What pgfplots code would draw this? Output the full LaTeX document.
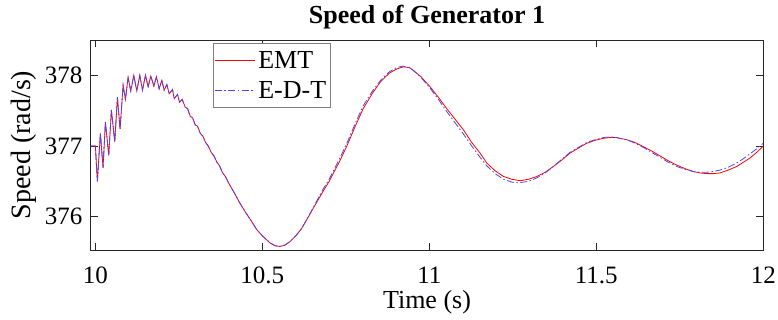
\documentclass[border=0pt]{standalone}
\usepackage{fontspec}
\setmainfont{Liberation Serif}
\usepackage{pgfplots}
\pgfplotsset{compat=1.18}
\definecolor{emtred}{RGB}{255,0,0}
\definecolor{edtblue}{RGB}{70,70,255}
\definecolor{axgray}{RGB}{38,38,38}
\begin{document}
\begin{tikzpicture}
\begin{axis}[
  at={(0pt,0pt)}, anchor=south west,
  scale only axis, width=672.6pt, height=210pt,
  xmin=9.986, xmax=12, ymin=375.53, ymax=378.5,
  xtick={10,10.5,11,11.5,12},
  xticklabels={10,10.5,11,11.5,12},
  ytick={376,377,378},
  yticklabels={376,377,378},
  tick align=inside, major tick length=7pt,
  xtick pos=both, ytick pos=both,
  axis line style={axgray, line width=0.8pt},
  tick style={axgray, line width=0.8pt},
  /pgf/number format/assume math mode=true,
  xticklabel style={font=\fontsize{25}{29}\selectfont, anchor=base, yshift=-33.5pt, inner sep=0pt},
  yticklabel style={font=\fontsize{25}{29}\selectfont, anchor=east, inner sep=0pt, xshift=-8pt},
  title={\textbf{Speed of Generator 1}},
  title style={font=\fontsize{26}{30}\selectfont, at={(rel axis cs:0.5,1)}, anchor=base, yshift=10.7pt, inner sep=0pt},
  xlabel={Time (s)},
  xlabel style={font=\fontsize{26}{30}\selectfont, at={(rel axis cs:0.5,0)}, anchor=base, yshift=-59pt, inner sep=0pt},
  ylabel={Speed (rad/s)},
  ylabel style={font=\fontsize{28}{32}\selectfont, at={(axis description cs:-0.0996,0.5)}, anchor=center, inner sep=0pt},
  legend style={font=\fontsize{26}{30}\selectfont, at={(rel axis cs:0.1823,0.984)}, anchor=north west,
    draw=gray, fill=white, inner xsep=1pt, inner ysep=1.5pt,
    nodes={inner xsep=3pt, inner ysep=6pt, anchor=west}},
  legend cell align=left,
  legend image code/.code={\draw[#1] (0pt,0pt) -- (40pt,0pt);},
]
\addlegendimage{emtred, line width=0.8pt}
\addlegendentry{EMT}
\addlegendimage{edtblue, line width=0.8pt, dash pattern=on 7pt off 2.5pt on 1.5pt off 2.5pt}
\addlegendentry{E-D-T}
\addplot[emtred, line width=0.8pt, forget plot] coordinates {
(9.98,377.0) (10.0,377.0) (10.006,376.50) (10.015,377.18) (10.023,376.69) (10.030,377.34)
(10.040,376.87) (10.048,377.51) (10.058,377.06) (10.066,377.69) (10.074,377.24) (10.083,377.86)
(10.090,377.66) (10.098,377.97) (10.106,377.78) (10.115,378.00) (10.124,377.78) (10.133,378.00)
(10.141,377.79) (10.150,378.00) (10.158,377.84) (10.166,377.99) (10.175,377.85) (10.183,377.98)
(10.191,377.81) (10.199,377.93) (10.206,377.79) (10.214,377.87) (10.221,377.74) (10.231,377.80)
(10.236,377.67) (10.246,377.73) (10.252,377.62) (10.260,377.66) (10.269,377.55) (10.276,377.53)
(10.284,377.42) (10.291,377.40) (10.299,377.30) (10.306,377.28) (10.314,377.18) (10.322,377.14)
(10.330,377.05) (10.338,377.00) (10.347,376.91) (10.355,376.86) (10.364,376.77) (10.372,376.72)
(10.380,376.63) (10.389,376.57) (10.400,376.47) (10.417,376.33) (10.433,376.19) (10.450,376.06)
(10.467,375.94) (10.483,375.82) (10.500,375.73) (10.523,375.63) (10.538,375.59) (10.553,375.58)
(10.568,375.60) (10.583,375.65) (10.600,375.73) (10.617,375.83) (10.633,375.96) (10.650,376.10)
(10.667,376.24) (10.683,376.37) (10.700,376.50) (10.733,376.80) (10.753,377.00) (10.780,377.30)
(10.802,377.53) (10.830,377.75) (10.854,377.91) (10.880,378.03) (10.902,378.09) (10.922,378.12)
(10.940,378.11) (10.952,378.07) (10.975,377.98) (11.002,377.84) (11.027,377.69) (11.052,377.53)
(11.077,377.38) (11.102,377.23) (11.127,377.05) (11.152,376.90) (11.172,376.76) (11.197,376.65)
(11.222,376.57) (11.247,376.53) (11.272,376.51) (11.297,376.53) (11.322,376.57) (11.347,376.63)
(11.371,376.71) (11.396,376.80) (11.421,376.90) (11.446,376.97) (11.471,377.04) (11.496,377.08)
(11.521,377.11) (11.541,377.12) (11.560,377.12) (11.591,377.09) (11.616,377.05) (11.641,376.99)
(11.666,376.93) (11.691,376.86) (11.716,376.79) (11.741,376.73) (11.766,376.68) (11.790,376.64)
(11.810,376.62) (11.831,376.61) (11.850,376.61) (11.870,376.62) (11.895,376.66) (11.920,376.71)
(11.940,376.77) (11.960,376.83) (11.980,376.91) (12.000,377.00)
};
\addplot[edtblue, line width=0.8pt, dash pattern=on 7pt off 2.5pt on 1.5pt off 2.5pt, forget plot] coordinates {
(9.98,377.0) (10.0,377.0) (10.006,376.50) (10.015,377.18) (10.023,376.69) (10.030,377.34)
(10.040,376.87) (10.048,377.51) (10.058,377.06) (10.066,377.69) (10.074,377.24) (10.083,377.86)
(10.090,377.66) (10.098,377.97) (10.106,377.78) (10.115,378.00) (10.124,377.78) (10.133,378.00)
(10.141,377.79) (10.150,378.00) (10.158,377.84) (10.166,377.99) (10.175,377.85) (10.183,377.98)
(10.191,377.81) (10.199,377.93) (10.206,377.79) (10.214,377.87) (10.221,377.74) (10.231,377.80)
(10.236,377.67) (10.246,377.73) (10.252,377.62) (10.260,377.66) (10.269,377.55) (10.276,377.53)
(10.284,377.42) (10.291,377.40) (10.299,377.30) (10.306,377.28) (10.314,377.18) (10.322,377.14)
(10.330,377.05) (10.338,377.00) (10.347,376.91) (10.355,376.86) (10.364,376.77) (10.372,376.72)
(10.380,376.63) (10.389,376.57) (10.400,376.47) (10.417,376.33) (10.433,376.19) (10.450,376.06)
(10.467,375.94) (10.483,375.82) (10.500,375.73) (10.523,375.63) (10.538,375.59) (10.553,375.58)
(10.568,375.60) (10.583,375.65) (10.600,375.73) (10.617,375.83) (10.633,375.96) (10.650,376.11)
(10.667,376.26) (10.683,376.40) (10.700,376.53) (10.733,376.84) (10.753,377.04) (10.780,377.34)
(10.802,377.57) (10.830,377.78) (10.854,377.93) (10.880,378.05) (10.902,378.11) (10.920,378.13)
(10.940,378.11) (10.952,378.07) (10.975,377.97) (11.002,377.82) (11.027,377.66) (11.052,377.49)
(11.077,377.33) (11.102,377.17) (11.127,377.00) (11.152,376.84) (11.172,376.72) (11.197,376.61)
(11.222,376.53) (11.247,376.49) (11.265,376.48) (11.297,376.50) (11.322,376.55) (11.347,376.62)
(11.371,376.71) (11.396,376.81) (11.421,376.91) (11.446,376.98) (11.471,377.05) (11.496,377.09)
(11.521,377.12) (11.541,377.13) (11.560,377.12) (11.591,377.09) (11.616,377.04) (11.641,376.98)
(11.666,376.91) (11.691,376.84) (11.716,376.77) (11.741,376.71) (11.766,376.67) (11.790,376.64)
(11.810,376.63) (11.831,376.63) (11.850,376.64) (11.870,376.66) (11.895,376.70) (11.920,376.76)
(11.940,376.82) (11.960,376.89) (11.980,376.96) (12.000,377.04)
};
\end{axis}
\pgfresetboundingbox
\path (-90.7pt,-70pt) rectangle (687.3pt,250pt);
\end{tikzpicture}
\end{document}
